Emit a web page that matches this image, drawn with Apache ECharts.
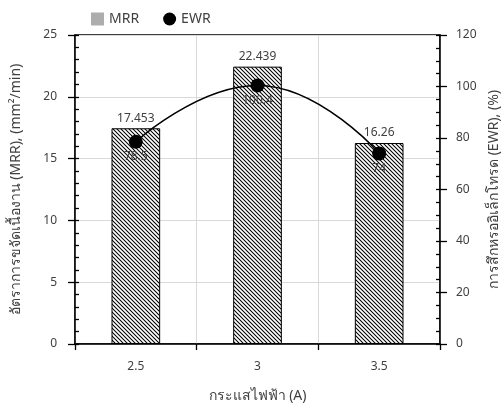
<!DOCTYPE html>
<html><head><meta charset="utf-8">
<script src="https://cdn.jsdelivr.net/npm/echarts@6/dist/echarts.min.js"></script>
<style>html,body{margin:0;padding:0;background:#fff}#c{width:503px;height:407px}</style>
</head><body><div id="c"></div>
<script>
const categories = ['2.5', '3', '3.5'];
const mrrValues = [17.453, 22.439, 16.26];
const ewrValues = [78.5, 100.4, 74];
const mrrName = 'MRR';
const ewrName = 'EWR';
const xAxisName = 'กระแสไฟฟ้า (A)';
const leftAxisName = 'อัตราการขจัดเนื้องาน (MRR), (mm²/min)';
const rightAxisName = 'การสึกหรออิเล็กโทรด (EWR), (%)';

const FONT = '"Noto Sans", "DejaVu Sans", sans-serif';
const TXT = '#404040';

function hatch() {
  const c = document.createElement('canvas');
  c.width = 4; c.height = 4;
  const g = c.getContext('2d');
  g.fillStyle = '#fff'; g.fillRect(0, 0, 4, 4);
  g.strokeStyle = '#000'; g.lineWidth = 1.05;
  g.beginPath();
  g.moveTo(-1, -1); g.lineTo(5, 5);
  g.moveTo(-1, 3); g.lineTo(1, 5);
  g.moveTo(3, -1); g.lineTo(5, 1);
  g.stroke();
  return c;
}
function dots() {
  const c = document.createElement('canvas');
  c.width = 2; c.height = 2;
  const g = c.getContext('2d');
  g.fillStyle = '#d0d0d0'; g.fillRect(0, 0, 2, 2);
  g.fillStyle = '#8a8a8a'; g.fillRect(0, 0, 1, 1); g.fillRect(1, 1, 1, 1);
  return c;
}
const pattern = { image: hatch(), repeat: 'repeat' };
const legendPattern = { image: dots(), repeat: 'repeat' };

const chart = echarts.init(document.getElementById('c'), null, { renderer: 'canvas' });
chart.setOption({
  animation: false,
  textStyle: { fontFamily: FONT },
  legend: {
    left: 86, top: 7, itemGap: 24, itemWidth: 13, itemHeight: 13,
    textStyle: { fontSize: 14, color: TXT, fontFamily: FONT },
    data: [
      { name: mrrName, icon: 'rect', itemStyle: { color: legendPattern, borderWidth: 0 } },
      { name: ewrName, icon: 'circle' }
    ]
  },
  grid: { left: 75, right: 63, top: 35, bottom: 63, outerBoundsMode: 'none', containLabel: false, show: true, borderColor: '#000', borderWidth: 1.3, backgroundColor: 'transparent' },
  xAxis: {
    type: 'category', data: categories, boundaryGap: true,
    name: xAxisName, nameLocation: 'middle', nameGap: 45,
    nameTextStyle: { fontSize: 14, color: TXT, fontFamily: FONT },
    axisLine: { lineStyle: { color: '#000', width: 1.5 } },
    axisTick: { show: true, alignWithLabel: false, length: 6, lineStyle: { color: '#000', width: 1.3 } },
    axisLabel: { margin: 17, fontSize: 12, color: TXT, fontFamily: FONT },
    splitLine: { show: true, lineStyle: { color: '#d9d9d9', width: 1 } }
  },
  yAxis: [
    {
      type: 'value', position: 'left', min: 0, max: 25, interval: 5,
      name: leftAxisName, nameLocation: 'middle', nameGap: 52, nameRotate: 90,
      nameTextStyle: { fontSize: 14, color: TXT, fontFamily: FONT },
      axisLine: { show: true, lineStyle: { color: '#000', width: 1.5 } },
      axisTick: { show: true, length: 7, lineStyle: { color: '#000', width: 1.3 } },
      axisLabel: { margin: 18, fontSize: 12, color: TXT, fontFamily: FONT },
      splitLine: { show: true, lineStyle: { color: '#d9d9d9', width: 1 } }
    },
    {
      type: 'value', position: 'right', min: 0, max: 120, interval: 20,
      name: rightAxisName, nameLocation: 'middle', nameGap: 46, nameRotate: 90,
      nameTextStyle: { fontSize: 14, color: TXT, fontFamily: FONT },
      axisLine: { show: true, lineStyle: { color: '#000', width: 1.5 } },
      axisTick: { show: true, length: 7, lineStyle: { color: '#000', width: 1.3 } },
      axisLabel: { margin: 16, fontSize: 12, color: TXT, fontFamily: FONT },
      splitLine: { show: false }
    },
    {
      type: 'value', position: 'left', min: 0, max: 25, interval: 1,
      axisLine: { show: false }, axisLabel: { show: false }, splitLine: { show: false },
      axisTick: { show: true, inside: true, length: 4, lineStyle: { color: '#000', width: 1.3 } }
    },
    {
      type: 'value', position: 'right', min: 0, max: 120, interval: 5,
      axisLine: { show: false }, axisLabel: { show: false }, splitLine: { show: false },
      axisTick: { show: true, inside: true, length: 4, lineStyle: { color: '#000', width: 1.3 } }
    }
  ],
  series: [
    {
      name: mrrName, type: 'bar', yAxisIndex: 0, data: mrrValues, barWidth: '40%',
      itemStyle: { color: pattern, borderColor: '#000', borderWidth: 1 },
      label: { show: true, position: 'top', distance: 4, fontSize: 12, color: TXT, fontFamily: FONT }
    },
    {
      name: ewrName, type: 'line', yAxisIndex: 1, data: ewrValues, smooth: 0.5,
      symbol: 'circle', symbolSize: 14,
      lineStyle: { color: '#000', width: 1.6 },
      itemStyle: { color: '#000' },
      label: { show: true, position: 'bottom', distance: 2, fontSize: 12, color: TXT, fontFamily: FONT },
      z: 5
    }
  ]
});
</script></body></html>
